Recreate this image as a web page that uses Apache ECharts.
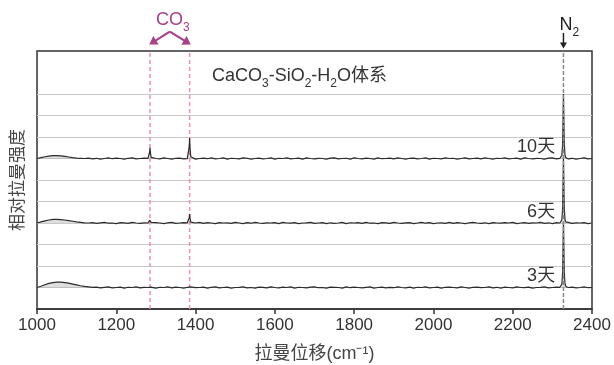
<!DOCTYPE html>
<html><head><meta charset="utf-8">
<script src="https://cdn.jsdelivr.net/npm/echarts@6/dist/echarts.min.js"></script>
<style>html,body{margin:0;padding:0;background:#fff}#c{width:614px;height:365px}</style>
</head><body><div id="c"></div>
<script>
// ---------- data ----------
const xTicks = [1000,1200,1400,1600,1800,2000,2200,2400];
const dayLabels = ['10天','6天','3天'];
const baselineLevel = [7,4,1];          // vertical stacking offset of each spectrum
const gridLevels = [1,2,3,4,5,6,7,8,9,10];
const co3Peaks = [1285,1385];
const n2Peak = 2328;
const noiseStart = 1000, noiseStep = 10;

const base10 = [0.00,0.04,0.08,0.11,0.13,0.13,0.12,0.10,0.07,0.04,0.02,0.01,0.00,0.02,-0.02,
 0.01,-0.03,0.00,0.03,-0.01,0.02,0.00,-0.03,0.01,0.03,-0.02,0.00,0.02,-0.03,0.01,
 0.00,-0.02,0.03,0.00,-0.03,0.01,0.02,-0.02,0.00,0.03,-0.03,0.00,0.02,-0.01,0.03,
 -0.02,0.00,0.03,-0.03,0.01,0.00,-0.02,0.03,0.01,-0.03,0.00,0.02,-0.02,0.00,0.03,
 -0.03,0.01,0.00,0.03,-0.02,0.00,0.02,-0.03,0.03,0.00,-0.02,0.01,0.00,-0.03,0.02,
 0.03,-0.02,0.00,0.01,-0.03,0.03,0.00,-0.02,0.02,0.00,-0.03,0.03,-0.01,0.00,0.02,
 -0.02,0.03,0.00,-0.03,0.01,0.02,-0.02,0.00,0.03,-0.03,0.01,0.00,-0.02,0.03,0.00,
 0.01,-0.03,0.00,0.03,-0.02,0.00,0.02,-0.02,0.03,0.00,-0.03,0.01,0.00,0.03,-0.02,
 0.00,0.02,-0.03,0.03,0.00,-0.02,0.01,0.00,-0.03,0.02,0.03,-0.02,0.00,0.02,-0.02,
 0.01,-0.03,0.00,0.03,-0.02,0.00];
const base6 = [0.00,0.05,0.10,0.14,0.17,0.17,0.16,0.14,0.11,0.08,0.05,0.03,0.01,0.00,0.02,
 -0.02,0.01,0.03,-0.01,0.00,-0.03,0.02,0.01,-0.02,0.03,0.00,-0.02,0.01,0.02,-0.03,
 0.02,0.00,-0.03,0.01,0.03,-0.02,0.00,0.02,-0.03,0.01,0.00,0.03,-0.02,0.02,0.00,
 -0.03,0.02,0.00,0.01,-0.02,0.03,0.00,-0.03,0.02,-0.01,0.03,0.00,-0.02,0.01,0.00,
 0.02,-0.03,0.03,0.00,-0.01,0.02,-0.03,0.00,0.01,0.03,-0.02,0.00,0.02,-0.03,0.01,
 -0.02,0.00,0.03,-0.03,0.01,0.00,0.02,-0.02,0.03,-0.01,0.00,-0.03,0.02,0.01,-0.02,
 0.03,0.00,-0.02,0.01,0.02,-0.03,0.00,0.03,-0.01,0.02,-0.03,0.00,0.01,-0.02,0.03,
 -0.02,0.02,0.00,-0.03,0.01,0.03,0.00,-0.02,0.01,-0.03,0.02,0.00,-0.01,0.02,0.00,
 0.03,-0.03,0.00,0.02,-0.02,0.01,0.00,0.03,-0.02,0.01,-0.03,0.02,0.00,-0.01,0.03,
 -0.02,0.01,0.00,0.02,-0.03,0.00];
const base3 = [0.00,0.06,0.13,0.19,0.23,0.25,0.25,0.23,0.20,0.16,0.12,0.08,0.05,0.03,0.01,
 0.02,-0.02,0.01,0.03,-0.02,0.00,0.02,-0.03,0.01,0.00,0.03,-0.02,0.01,-0.01,0.02,
 -0.03,0.01,0.00,0.03,-0.02,0.02,0.00,-0.03,0.01,0.03,-0.01,0.00,0.02,-0.03,0.01,
 0.03,-0.02,0.00,0.02,-0.03,0.00,0.01,0.03,-0.02,0.00,-0.03,0.02,0.01,-0.02,0.03,
 0.00,-0.02,0.02,0.00,0.03,-0.03,0.01,0.00,-0.02,0.02,0.03,-0.01,0.00,-0.03,0.02,
 0.01,0.00,-0.03,0.03,-0.01,0.02,0.00,-0.02,0.01,0.03,-0.03,0.00,0.02,-0.02,0.01,
 -0.01,0.03,0.00,-0.02,0.02,-0.03,0.01,0.00,0.03,-0.02,0.00,0.02,-0.03,0.01,0.02,
 0.00,-0.02,0.03,0.00,-0.03,0.01,0.02,-0.01,0.00,0.03,-0.02,0.01,-0.03,0.02,0.00,
 -0.02,0.03,0.00,-0.01,0.02,-0.03,0.00,0.01,0.03,-0.02,0.00,0.02,-0.03,0.01,0.00,
 0.02,-0.02,0.00,0.03,-0.01,0.00];

const peaks10 = [
 [[1280,0.01],[1282,0.06],[1284,0.30],[1285,0.50],[1286,0.28],[1288,0.05],[1290,0.00]],
 [[1379,-0.01],[1382,0.08],[1384,0.55],[1385,0.95],[1386,0.50],[1388,0.08],[1391,0.01]],
 [[2319,0.01],[2322,0.05],[2324,0.15],[2326,0.70],[2327,1.90],[2328,3.00],[2329,1.90],[2330,0.70],[2332,0.15],[2334,0.05],[2337,0.00]]
];
const peaks6 = [
 [[1280,0.00],[1282,0.03],[1284,0.13],[1285,0.22],[1286,0.12],[1288,0.03],[1290,0.01]],
 [[1379,0.01],[1382,0.05],[1384,0.25],[1385,0.42],[1386,0.22],[1388,0.04],[1391,0.00]],
 [[2319,0.00],[2322,0.05],[2324,0.15],[2326,0.70],[2327,1.90],[2328,3.00],[2329,1.90],[2330,0.70],[2332,0.15],[2334,0.05],[2337,0.01]]
];
const peaks3 = [
 [[1280,0.00],[1283,0.02],[1285,0.05],[1287,0.02],[1290,0.00]],
 [[1380,0.01],[1383,0.03],[1385,0.07],[1387,0.03],[1390,0.00]],
 [[2319,0.01],[2322,0.05],[2324,0.16],[2326,0.72],[2327,1.95],[2328,3.05],[2329,1.95],[2330,0.72],[2332,0.16],[2334,0.05],[2337,0.00]]
];
const spectra = [base10, base6, base3];
const peakSets = [peaks10, peaks6, peaks3];

// ---------- build ----------
function build(base, groups, level){
  const pts = [];
  base.forEach((v,i)=>{
    const x = noiseStart + i*noiseStep;
    if (!groups.some(g => x >= g[0][0] && x <= g[g.length-1][0])) pts.push([x, v + level]);
  });
  groups.forEach(g => g.forEach(p => pts.push([p[0], p[1] + level])));
  pts.sort((a,b)=>a[0]-b[0]);
  return pts;
}
const FONT = "'Liberation Sans','Noto Sans CJK SC',sans-serif";
const splitColors = [];
for (let v = 0; v <= 12; v++) splitColors.push(gridLevels.includes(v) ? '#c9c9c9' : 'rgba(0,0,0,0)');

const chart = echarts.init(document.getElementById('c'), null, {renderer:'canvas'});
const option = {
  animation:false,
  grid:{left:37,right:22,top:51,bottom:56,outerBoundsMode:'none',containLabel:false,show:true,borderColor:'#333',borderWidth:1.5,backgroundColor:'rgba(0,0,0,0)'},
  xAxis:{type:'value',min:1000,max:2400,interval:200,
    axisLine:{show:true,onZero:false,lineStyle:{color:'#333',width:1.5}},
    axisTick:{show:true,length:5,lineStyle:{color:'#333',width:1.5}},
    axisLabel:{fontSize:17,color:'#333',fontFamily:FONT,margin:8,formatter:v=>xTicks.includes(v)?String(v):''},
    splitLine:{show:false},
    name:'拉曼位移(cm⁻¹)',nameLocation:'middle',nameGap:36,
    nameTextStyle:{fontSize:18,color:'#444',fontFamily:FONT}},
  yAxis:{type:'value',min:0,max:12,interval:1,
    axisLine:{show:false},axisTick:{show:false},axisLabel:{show:false},
    splitLine:{show:true,lineStyle:{color:splitColors,width:1.2}},
    name:'相对拉曼强度',nameLocation:'middle',nameGap:10,nameRotate:90,
    nameTextStyle:{fontSize:17,color:'#444',fontFamily:FONT}},
  series: spectra.map((b,i)=>({
    type:'line', name:dayLabels[i], showSymbol:false, z:3,
    data: build(b, peakSets[i], baselineLevel[i]),
    lineStyle:{color:'#2b2b2b',width:1.2},
    areaStyle:{origin:baselineLevel[i],color:'rgba(120,120,120,0.35)'}
  }))
};
chart.setOption(option);

// ---------- annotations ----------
const px = (x,y)=>chart.convertToPixel({gridIndex:0},[x,y]);
const g = [];
function seg(a,b,style,z){ g.push({type:'line',silent:true,z:z||1,shape:{x1:a[0],y1:a[1],x2:b[0],y2:b[1]},style}); }
function head(tip, from, color, len, w){
  const dx=tip[0]-from[0], dy=tip[1]-from[1], L=Math.hypot(dx,dy), ux=dx/L, uy=dy/L;
  const bx=tip[0]-ux*len, by=tip[1]-uy*len;
  g.push({type:'polygon',silent:true,z:5,shape:{points:[[tip[0],tip[1]],[bx-uy*w,by+ux*w],[bx+uy*w,by-ux*w]]},style:{fill:color}});
  return [bx+ux*1, by+uy*1];
}
const PINK='#f08cbf', MAG='#a8418a';
const sub = (col)=>({a:{fontSize:18,fontFamily:FONT,fill:col,lineHeight:28,verticalAlign:'middle'},b:{fontSize:12,fontFamily:FONT,fill:col,lineHeight:28,verticalAlign:'bottom'}});
co3Peaks.forEach(c=>seg(px(c,0),px(c,12),{stroke:PINK,lineWidth:1.5,lineDash:[4,3]},1));
const mid=(co3Peaks[0]+co3Peaks[1])/2;
const apex=px(mid,12.9);
[[co3Peaks[0]-2,12.3],[co3Peaks[1]+3,12.3]].forEach(t=>{
  const tip=px(t[0],t[1]);
  const base=head(tip,apex,MAG,8,5);
  seg(apex,base,{stroke:MAG,lineWidth:2.2},5);
});
const co3T=px(mid,13.44);
g.push({type:'text',silent:true,z:5,x:co3T[0]+3,y:co3T[1],style:{text:'{a|CO}{b|3}',align:'center',verticalAlign:'middle',rich:sub(MAG)}});
// N2
seg(px(n2Peak,0),px(n2Peak,12),{stroke:'#8a8a8a',lineWidth:1.5,lineDash:[4,2]},4);
const nTip=px(n2Peak,12.12), nFrom=px(n2Peak,12.84);
const nb=head(nTip,nFrom,'#222',6,3.5);
seg(nFrom,nb,{stroke:'#222',lineWidth:1.5},5);
const n2T=px(n2Peak,13.21);
g.push({type:'text',silent:true,z:5,x:n2T[0]+6,y:n2T[1],style:{text:'{a|N}{b|2}',align:'center',verticalAlign:'middle',rich:sub('#222')}});
// day labels
dayLabels.forEach((d,i)=>{
  const p=px(2307,baselineLevel[i]+0.53);
  g.push({type:'text',silent:true,z:5,x:p[0],y:p[1],style:{text:d,align:'right',verticalAlign:'middle',fontSize:18,fontFamily:FONT,fill:'#333'}});
});
// title
g.push({type:'text',silent:true,z:5,x:212,y:76,style:{text:'{a|CaCO}{b|3}{a|-SiO}{b|2}{a|-H}{b|2}{a|O体系}',align:'left',verticalAlign:'middle',rich:sub('#333')}});
chart.setOption({graphic:{elements:g}});
</script></body></html>
